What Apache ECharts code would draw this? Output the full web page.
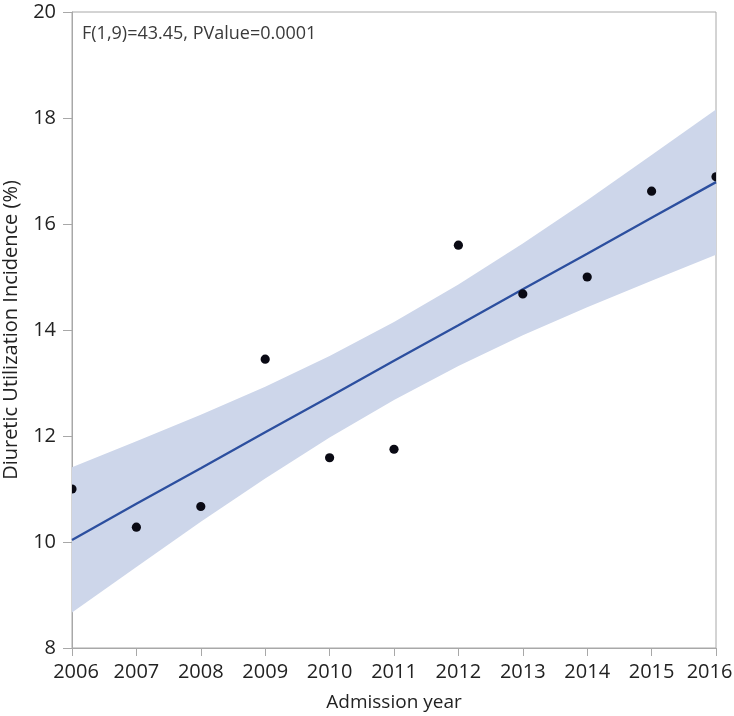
<!DOCTYPE html>
<html><head><meta charset="utf-8">
<script src="https://cdn.jsdelivr.net/npm/echarts@6/dist/echarts.min.js"></script>
<style>html,body{margin:0;padding:0;background:#fff;}#c{width:734px;height:716px;}</style>
</head><body><div id="c"></div>
<script>
const years = [2006,2007,2008,2009,2010,2011,2012,2013,2014,2015,2016];
const incidence = [11.0,10.28,10.67,13.45,11.59,11.75,15.6,14.68,15.0,16.62,16.89];
const fitLine = [10.04,10.72,11.39,12.07,12.74,13.42,14.09,14.77,15.44,16.12,16.79];
const bandUpper = [11.41,11.90,12.40,12.93,13.51,14.15,14.86,15.63,16.45,17.30,18.16];
const bandLower = [8.67,9.53,10.38,11.20,11.97,12.68,13.32,13.90,14.43,14.93,15.42];
const yTicks = [8,10,12,14,16,18,20];
const annotation = 'F(1,9)=43.45, PValue=0.0001';

const FONT = '"Open Sans", "Noto Sans", sans-serif';
const chart = echarts.init(document.getElementById('c'), null, {renderer:'canvas'});

const bandData = years.map((y,i)=>[y, bandLower[i], bandUpper[i]]);
const firstYear = years[0], lastYear = years[years.length-1];

chart.setOption({
  animation:false,
  backgroundColor:'#fff',
  grid:{left:72,right:18,top:12,bottom:68,containLabel:false,outerBoundsMode:'none',
        show:true,borderColor:'#a8a8a8',borderWidth:1,backgroundColor:'transparent'},
  xAxis:{
    type:'value',min:firstYear,max:lastYear,interval:1,
    name:'Admission year',nameLocation:'middle',nameGap:45,
    nameTextStyle:{fontFamily:FONT,fontSize:19,color:'#222'},
    axisLine:{lineStyle:{color:'#a8a8a8'}},
    axisTick:{show:true,length:8,lineStyle:{color:'#a8a8a8'}},
    axisLabel:{fontFamily:FONT,fontSize:20,color:'#222',margin:14,
      formatter:v=> v===firstYear ? '{f|'+v+'}' : (v===lastYear ? '{l|'+v+'}' : String(v)),
      rich:{
        f:{fontFamily:FONT,fontSize:20,color:'#222',padding:[0,0,0,8]},
        l:{fontFamily:FONT,fontSize:20,color:'#222',padding:[0,13,0,0]}
      }
    },
    splitLine:{show:false}
  },
  yAxis:{
    type:'value',min:yTicks[0],max:yTicks[yTicks.length-1],interval:2,
    name:'Diuretic Utilization Incidence (%)',nameLocation:'middle',nameGap:51,nameRotate:90,
    nameTextStyle:{fontFamily:FONT,fontSize:20,color:'#222'},
    axisLine:{show:true,lineStyle:{color:'#a8a8a8'}},
    axisTick:{show:true,length:9,lineStyle:{color:'#a8a8a8'}},
    axisLabel:{fontFamily:FONT,fontSize:20,color:'#222',margin:16},
    splitLine:{show:false}
  },
  graphic:[{type:'text',left:82,top:25,style:{text:annotation,font:'18px '+FONT,fill:'#3a3a3a'}}],
  series:[
    {
      type:'custom',
      clip:true,
      z:1,
      data:bandData,
      renderItem:function(params, api){
        if(params.dataIndex!==0) return null;
        const up=[], lo=[];
        for(let i=0;i<bandData.length;i++){
          up.push(api.coord([bandData[i][0], bandData[i][2]]));
          lo.push(api.coord([bandData[i][0], bandData[i][1]]));
        }
        return {type:'polygon',shape:{points:up.concat(lo.reverse())},style:{fill:'#cdd6ea',stroke:'none'}};
      }
    },
    {
      type:'line',
      z:2,
      data:years.map((y,i)=>[y,fitLine[i]]),
      showSymbol:false,
      lineStyle:{color:'#2c4f9f',width:2.3},
      clip:true
    },
    {
      type:'custom',
      clip:true,
      z:3,
      data:years.map((y,i)=>[y,incidence[i]]),
      renderItem:function(params, api){
        const p = api.coord([api.value(0), api.value(1)]);
        return {type:'circle',shape:{cx:p[0],cy:p[1],r:4.6},style:{fill:'#0a0a14'}};
      }
    }
  ]
});
</script></body></html>
